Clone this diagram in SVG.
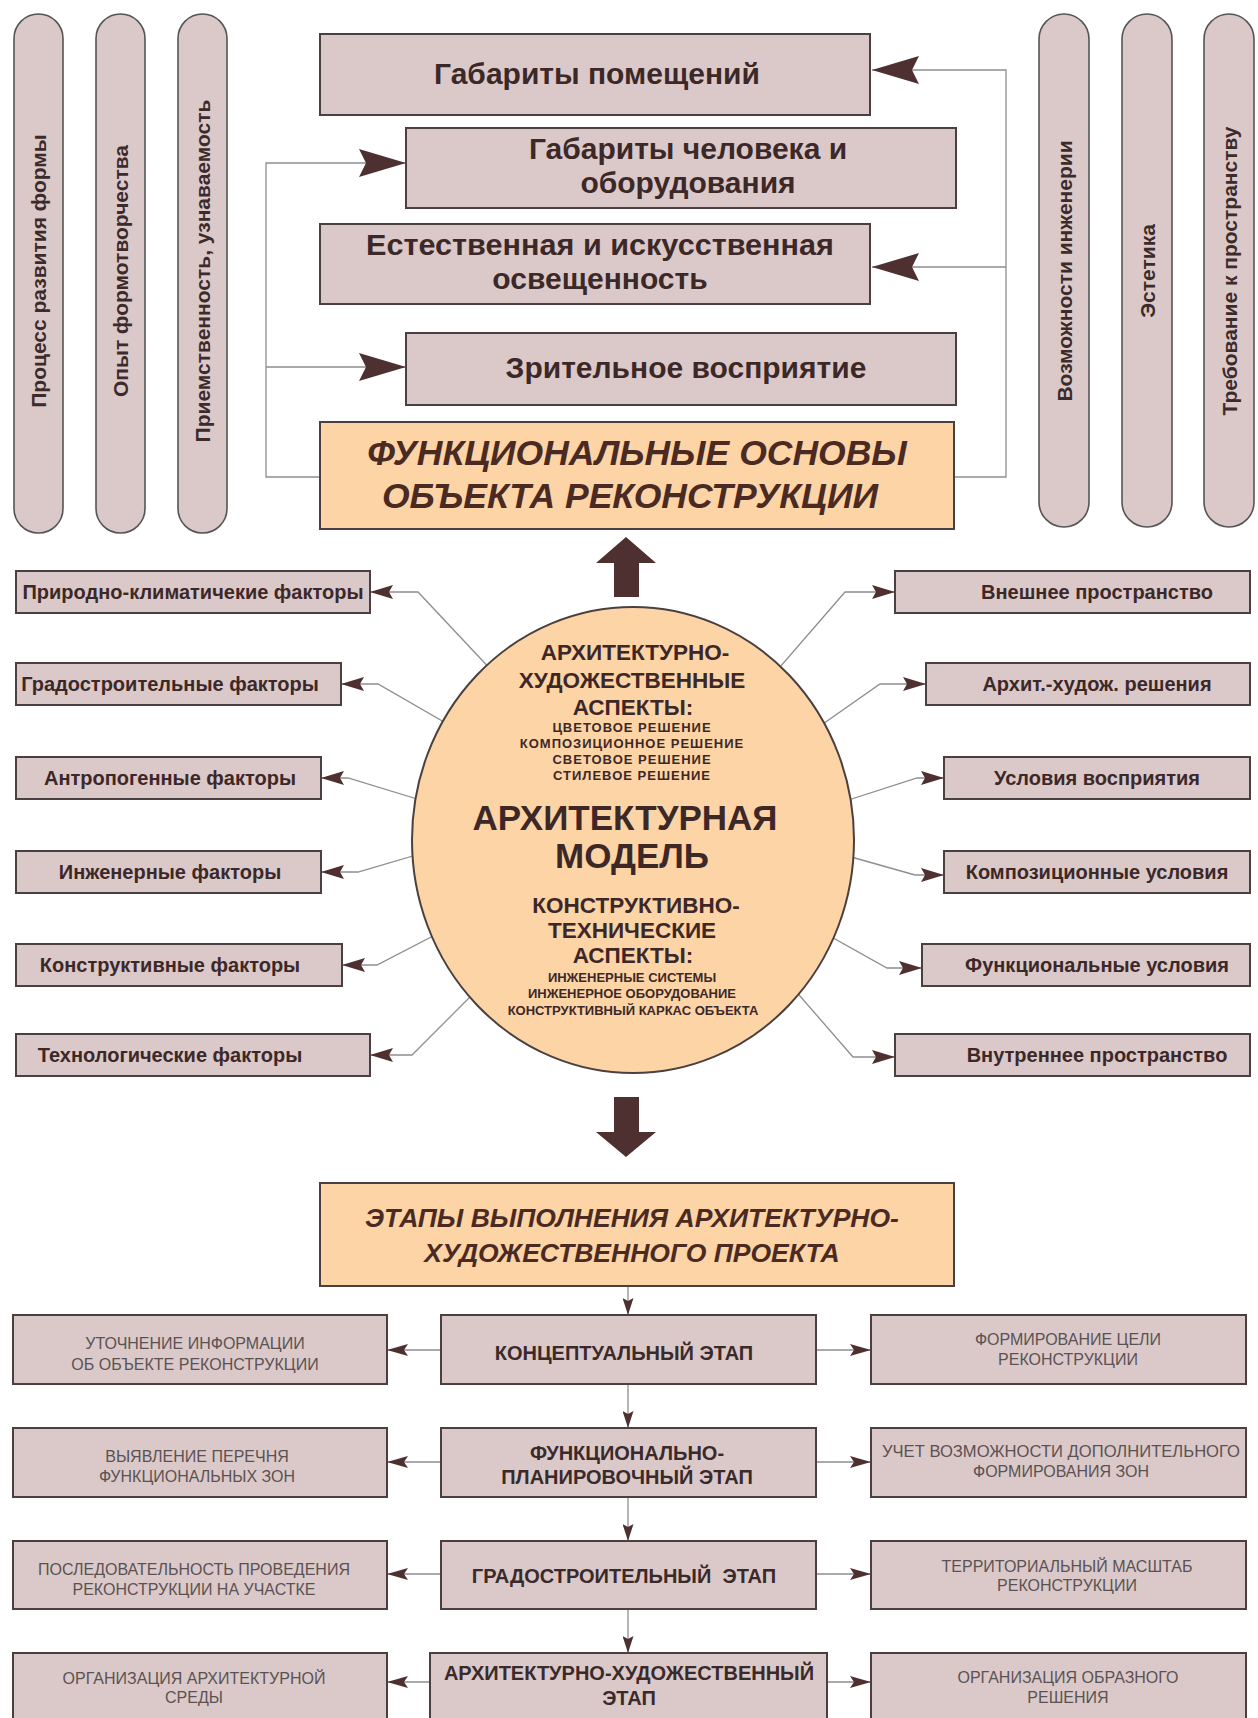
<svg xmlns="http://www.w3.org/2000/svg" width="1258" height="1718" viewBox="0 0 1258 1718">
<style>
text{font-family:"Liberation Sans",Arial,sans-serif;fill:#3d2828;text-anchor:middle}
.box{fill:#dbc9ca;stroke:#4a4040;stroke-width:2}
.main{fill:#fcd4a6;stroke:#4a4040;stroke-width:2}
.pill{fill:#dbc9ca;stroke:#555;stroke-width:1.6}
.ln{fill:none;stroke:#8e8e8e;stroke-width:1.3}
.t30{font-size:30px;font-weight:bold}
.ti{font-size:35.5px;font-weight:bold;font-style:italic;fill:#4a2a22}
.ti2{font-size:26.5px;font-weight:bold;font-style:italic;fill:#4a2a22}
.t19{font-size:20px;font-weight:bold}
.pt{font-size:21px;font-weight:bold;fill:#3b2b2b}
.c21{font-size:22.5px;font-weight:bold}
.c34{font-size:35px;font-weight:bold}
.cs{font-size:13px;font-weight:bold;letter-spacing:1px}
.cs2{font-size:13px;font-weight:bold}
.g16{font-size:16px;fill:#5a5252}
.b19{font-size:20px;font-weight:bold;fill:#3a2a2a}
.bigarrow{fill:#4e3030}
</style>
<defs>
<marker id="ahBig" markerUnits="userSpaceOnUse" markerWidth="48" markerHeight="28" refX="47" refY="14" orient="auto"><path d="M0,0 L47,14 L0,28 L7,14 z" fill="#4e3030"/></marker>
<marker id="ahMid" markerUnits="userSpaceOnUse" markerWidth="24" markerHeight="14" refX="23" refY="7" orient="auto"><path d="M0,0 L23,7 L0,14 L4,7 z" fill="#4e3030"/></marker>
<marker id="ahSm" markerUnits="userSpaceOnUse" markerWidth="22" markerHeight="12" refX="21" refY="6" orient="auto"><path d="M0,0 L21,6 L0,12 L4,6 z" fill="#4e3030"/></marker>
<marker id="ahV" markerUnits="userSpaceOnUse" markerWidth="18" markerHeight="11" refX="17" refY="5.5" orient="auto"><path d="M0,0 L17,5.5 L0,11 L3,5.5 z" fill="#4e3030"/></marker>
</defs>
<rect width="1258" height="1718" fill="#ffffff"/>

<g id="connectors">
<path class="ln" d="M320,477 H266 V163 H406" marker-end="url(#ahBig)"/>
<path class="ln" d="M266,367 H406" marker-end="url(#ahBig)"/>
<path class="ln" d="M954,477 H1006 V70 H872" marker-end="url(#ahBig)"/>
<path class="ln" d="M1006,267 H872" marker-end="url(#ahBig)"/>
<path class="ln" d="M495,674 L418,592 H370" marker-end="url(#ahMid)"/>
<path class="ln" d="M470,737 L378,684 H341" marker-end="url(#ahMid)"/>
<path class="ln" d="M440,806 L348,778 H321" marker-end="url(#ahMid)"/>
<path class="ln" d="M440,848 L358,872 H321" marker-end="url(#ahMid)"/>
<path class="ln" d="M460,922 L377,965 H342" marker-end="url(#ahMid)"/>
<path class="ln" d="M480,987 L412,1055 H370" marker-end="url(#ahMid)"/>
<path class="ln" d="M760,690 L845,592 H895" marker-end="url(#ahMid)"/>
<path class="ln" d="M800,740 L880,684 H926" marker-end="url(#ahMid)"/>
<path class="ln" d="M830,806 L917,778 H944" marker-end="url(#ahMid)"/>
<path class="ln" d="M830,851 L915,875 H944" marker-end="url(#ahMid)"/>
<path class="ln" d="M810,925 L887,968 H922" marker-end="url(#ahMid)"/>
<path class="ln" d="M780,973 L853,1057 H895" marker-end="url(#ahMid)"/>
<path class="ln" d="M628,1286 V1315" marker-end="url(#ahV)"/>
<path class="ln" d="M628,1384 V1428" marker-end="url(#ahV)"/>
<path class="ln" d="M628,1497 V1541" marker-end="url(#ahV)"/>
<path class="ln" d="M628,1609 V1653" marker-end="url(#ahV)"/>
<path class="ln" d="M441,1350 H387" marker-end="url(#ahSm)"/>
<path class="ln" d="M441,1462 H387" marker-end="url(#ahSm)"/>
<path class="ln" d="M441,1574 H387" marker-end="url(#ahSm)"/>
<path class="ln" d="M430,1682 H387" marker-end="url(#ahSm)"/>
<path class="ln" d="M816,1350 H871" marker-end="url(#ahSm)"/>
<path class="ln" d="M816,1462 H871" marker-end="url(#ahSm)"/>
<path class="ln" d="M816,1574 H871" marker-end="url(#ahSm)"/>
<path class="ln" d="M827,1682 H871" marker-end="url(#ahSm)"/>
<polygon class="bigarrow" points="626,537 656,563 639,563 639,597 614,597 614,563 596,563"/>
<polygon class="bigarrow" points="614,1097 639,1097 639,1132 656,1132 626,1157 596,1132 614,1132"/>
</g>

<g id="pill-process"><rect class="pill" x="14" y="14" width="49" height="519" rx="24.5"/><text class="pt" transform="translate(46,271) rotate(-90)">Процесс развития формы</text></g>
<g id="pill-opyt"><rect class="pill" x="96" y="14" width="49" height="519" rx="24.5"/><text class="pt" transform="translate(128,271) rotate(-90)">Опыт формотворчества</text></g>
<g id="pill-priem"><rect class="pill" x="178" y="14" width="49" height="519" rx="24.5"/><text class="pt" transform="translate(210,271) rotate(-90)">Приемственность, узнаваемость</text></g>
<g id="pill-vozm"><rect class="pill" x="1039" y="14" width="50" height="513" rx="25"/><text class="pt" transform="translate(1071.5,271) rotate(-90)">Возможности инженерии</text></g>
<g id="pill-estetika"><rect class="pill" x="1122" y="14" width="50" height="513" rx="25"/><text class="pt" transform="translate(1154.5,271) rotate(-90)">Эстетика</text></g>
<g id="pill-treb"><rect class="pill" x="1204" y="14" width="50" height="513" rx="25"/><text class="pt" transform="translate(1236.5,271) rotate(-90)">Требование к пространству</text></g>

<g id="gab-pom"><rect class="box" x="320" y="34" width="550" height="81"/><text class="t30" x="597" y="84">Габариты помещений</text></g>
<g id="gab-chel"><rect class="box" x="406" y="128" width="550" height="80"/><text class="t30" x="688" y="159">Габариты человека и</text><text class="t30" x="688" y="193">оборудования</text></g>
<g id="osv"><rect class="box" x="320" y="224" width="550" height="80"/><text class="t30" x="600" y="255" textLength="468" lengthAdjust="spacingAndGlyphs">Естественная и искусственная</text><text class="t30" x="600" y="289">освещенность</text></g>
<g id="zrit"><rect class="box" x="406" y="333" width="550" height="72"/><text class="t30" x="686" y="378">Зрительное восприятие</text></g>
<g id="func-osn"><rect class="main" x="320" y="422" width="634" height="107"/><text class="ti" x="637" y="465">ФУНКЦИОНАЛЬНЫЕ ОСНОВЫ</text><text class="ti" x="630" y="508">ОБЪЕКТА РЕКОНСТРУКЦИИ</text></g>

<g id="f-prir"><rect class="box" x="16" y="571" width="354" height="42"/><text class="t19" x="193" y="599">Природно-климатичекие факторы</text></g>
<g id="f-grad"><rect class="box" x="16" y="663" width="325" height="42"/><text class="t19" x="170" y="691">Градостроительные факторы</text></g>
<g id="f-antr"><rect class="box" x="16" y="757" width="305" height="42"/><text class="t19" x="170" y="785">Антропогенные факторы</text></g>
<g id="f-inzh"><rect class="box" x="16" y="851" width="305" height="42"/><text class="t19" x="170" y="879">Инженерные факторы</text></g>
<g id="f-konstr"><rect class="box" x="16" y="944" width="326" height="42"/><text class="t19" x="170" y="972">Конструктивные факторы</text></g>
<g id="f-tech"><rect class="box" x="16" y="1034" width="354" height="42"/><text class="t19" x="170" y="1062">Технологические факторы</text></g>

<g id="r-vnesh"><rect class="box" x="895" y="571" width="355" height="42"/><text class="t19" x="1097" y="599">Внешнее пространство</text></g>
<g id="r-arch"><rect class="box" x="926" y="663" width="324" height="42"/><text class="t19" x="1097" y="691">Архит.-худож. решения</text></g>
<g id="r-usl"><rect class="box" x="944" y="757" width="306" height="42"/><text class="t19" x="1097" y="785">Условия восприятия</text></g>
<g id="r-komp"><rect class="box" x="944" y="851" width="306" height="42"/><text class="t19" x="1097" y="879">Композиционные условия</text></g>
<g id="r-func"><rect class="box" x="922" y="944" width="328" height="42"/><text class="t19" x="1097" y="972">Функциональные условия</text></g>
<g id="r-vnutr"><rect class="box" x="895" y="1034" width="355" height="42"/><text class="t19" x="1097" y="1062">Внутреннее пространство</text></g>

<g id="arch-model">
<ellipse cx="633" cy="840" rx="221" ry="233" fill="#fcd4a6" stroke="#4a4040" stroke-width="2"/>
<text class="c21" x="635" y="660">АРХИТЕКТУРНО-</text>
<text class="c21" x="632" y="688">ХУДОЖЕСТВЕННЫЕ</text>
<text class="c21" x="633" y="715">АСПЕКТЫ:</text>
<text class="cs" x="632" y="732">ЦВЕТОВОЕ РЕШЕНИЕ</text>
<text class="cs" x="632" y="748">КОМПОЗИЦИОННОЕ РЕШЕНИЕ</text>
<text class="cs" x="632" y="764">СВЕТОВОЕ РЕШЕНИЕ</text>
<text class="cs" x="632" y="780">СТИЛЕВОЕ РЕШЕНИЕ</text>
<text class="c34" x="625" y="830">АРХИТЕКТУРНАЯ</text>
<text class="c34" x="632" y="868">МОДЕЛЬ</text>
<text class="c21" x="636" y="913">КОНСТРУКТИВНО-</text>
<text class="c21" x="632" y="938">ТЕХНИЧЕСКИЕ</text>
<text class="c21" x="633" y="963">АСПЕКТЫ:</text>
<text class="cs2" x="632" y="982">ИНЖЕНЕРНЫЕ СИСТЕМЫ</text>
<text class="cs2" x="632" y="998">ИНЖЕНЕРНОЕ ОБОРУДОВАНИЕ</text>
<text class="cs2" x="633" y="1015">КОНСТРУКТИВНЫЙ КАРКАС ОБЪЕКТА</text>
</g>

<g id="etapy"><rect class="main" x="320" y="1183" width="634" height="103"/><text class="ti2" x="632" y="1227">ЭТАПЫ ВЫПОЛНЕНИЯ АРХИТЕКТУРНО-</text><text class="ti2" x="632" y="1262">ХУДОЖЕСТВЕННОГО ПРОЕКТА</text></g>

<g id="s-konc"><rect class="box" x="441" y="1315" width="375" height="69"/><text class="b19" x="624" y="1360">КОНЦЕПТУАЛЬНЫЙ ЭТАП</text></g>
<g id="s-func"><rect class="box" x="441" y="1428" width="375" height="69"/><text class="b19" x="627" y="1460">ФУНКЦИОНАЛЬНО-</text><text class="b19" x="627" y="1484">ПЛАНИРОВОЧНЫЙ ЭТАП</text></g>
<g id="s-grad"><rect class="box" x="441" y="1541" width="375" height="68"/><text class="b19" x="624" y="1583" style="white-space:pre">ГРАДОСТРОИТЕЛЬНЫЙ  ЭТАП</text></g>
<g id="s-arch"><rect class="box" x="430" y="1653" width="397" height="80"/><text class="b19" x="629" y="1680">АРХИТЕКТУРНО-ХУДОЖЕСТВЕННЫЙ</text><text class="b19" x="629" y="1705">ЭТАП</text></g>

<g id="l-utoch"><rect class="box" x="13" y="1315" width="374" height="69"/><text class="g16" x="195" y="1349">УТОЧНЕНИЕ ИНФОРМАЦИИ</text><text class="g16" x="195" y="1370">ОБ ОБЪЕКТЕ РЕКОНСТРУКЦИИ</text></g>
<g id="l-vyyav"><rect class="box" x="13" y="1428" width="374" height="69"/><text class="g16" x="197" y="1462">ВЫЯВЛЕНИЕ ПЕРЕЧНЯ</text><text class="g16" x="197" y="1482">ФУНКЦИОНАЛЬНЫХ ЗОН</text></g>
<g id="l-posl"><rect class="box" x="13" y="1541" width="374" height="68"/><text class="g16" x="194" y="1575">ПОСЛЕДОВАТЕЛЬНОСТЬ ПРОВЕДЕНИЯ</text><text class="g16" x="194" y="1595">РЕКОНСТРУКЦИИ НА УЧАСТКЕ</text></g>
<g id="l-org"><rect class="box" x="13" y="1653" width="374" height="80"/><text class="g16" x="194" y="1684">ОРГАНИЗАЦИЯ АРХИТЕКТУРНОЙ</text><text class="g16" x="194" y="1703">СРЕДЫ</text></g>

<g id="r-form"><rect class="box" x="871" y="1315" width="375" height="69"/><text class="g16" x="1068" y="1345">ФОРМИРОВАНИЕ ЦЕЛИ</text><text class="g16" x="1068" y="1365">РЕКОНСТРУКЦИИ</text></g>
<g id="r-uchet"><rect class="box" x="871" y="1428" width="375" height="69"/><text class="g16" x="1061" y="1457" textLength="358" lengthAdjust="spacingAndGlyphs">УЧЕТ ВОЗМОЖНОСТИ ДОПОЛНИТЕЛЬНОГО</text><text class="g16" x="1061" y="1477">ФОРМИРОВАНИЯ ЗОН</text></g>
<g id="r-terr"><rect class="box" x="871" y="1541" width="375" height="68"/><text class="g16" x="1067" y="1572">ТЕРРИТОРИАЛЬНЫЙ МАСШТАБ</text><text class="g16" x="1067" y="1591">РЕКОНСТРУКЦИИ</text></g>
<g id="r-obr"><rect class="box" x="871" y="1653" width="375" height="80"/><text class="g16" x="1068" y="1683">ОРГАНИЗАЦИЯ ОБРАЗНОГО</text><text class="g16" x="1068" y="1703">РЕШЕНИЯ</text></g>
</svg>
